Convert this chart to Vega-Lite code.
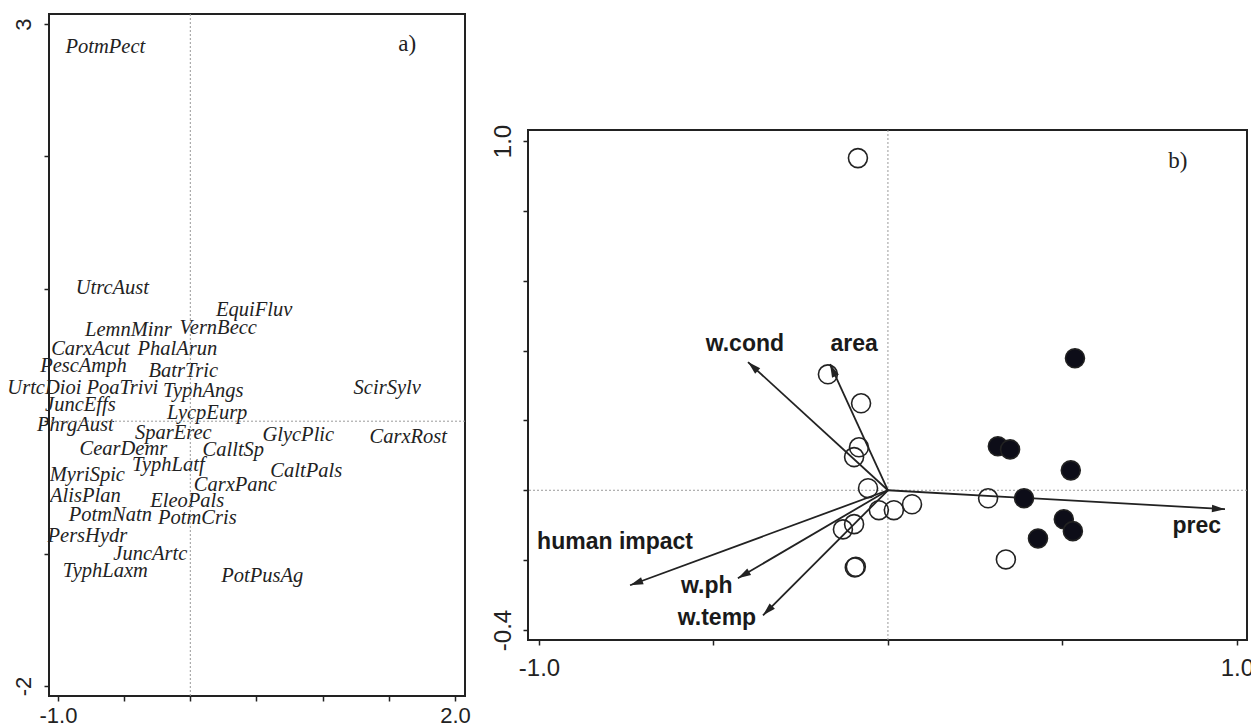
{
  "$schema": "https://vega.github.io/schema/vega-lite/v6.json",
  "padding": {"left": 6, "top": 12, "right": 0, "bottom": 0},
  "background": "white",
  "spacing": 17,
  "config": {
    "view": {"stroke": "#222", "strokeWidth": 2},
    "axis": {"grid": false, "domain": false, "tickColor": "#222", "tickWidth": 1.5, "tickSize": 5, "labelColor": "#222", "labelFont": "Liberation Sans", "labelFontSize": 21, "title": null, "labelFlush": true, "labelOverlap": false}
  },
  "datasets": {
    "species": [
      {"name": "PotmPect", "x": -0.642, "y": 2.826},
      {"name": "UtrcAust", "x": -0.589, "y": 1.008},
      {"name": "EquiFluv", "x": 0.483, "y": 0.841},
      {"name": "LemnMinr", "x": -0.468, "y": 0.689},
      {"name": "VernBecc", "x": 0.211, "y": 0.705},
      {"name": "CarxAcut", "x": -0.755, "y": 0.545},
      {"name": "PhalArun", "x": -0.098, "y": 0.545},
      {"name": "PescAmph", "x": -0.808, "y": 0.417},
      {"name": "BatrTric", "x": -0.053, "y": 0.379},
      {"name": "UrtcDioi", "x": -1.103, "y": 0.25},
      {"name": "PoaTrivi", "x": -0.514, "y": 0.25},
      {"name": "TyphAngs", "x": 0.098, "y": 0.227},
      {"name": "ScirSylv", "x": 1.488, "y": 0.25},
      {"name": "JuncEffs", "x": -0.831, "y": 0.121},
      {"name": "LycpEurp", "x": 0.128, "y": 0.061},
      {"name": "PhrgAust", "x": -0.869, "y": -0.03},
      {"name": "SparErec", "x": -0.128, "y": -0.091},
      {"name": "GlycPlic", "x": 0.816, "y": -0.106},
      {"name": "CarxRost", "x": 1.647, "y": -0.121},
      {"name": "CearDemr", "x": -0.506, "y": -0.212},
      {"name": "CalltSp", "x": 0.325, "y": -0.22},
      {"name": "TyphLatf", "x": -0.166, "y": -0.333},
      {"name": "MyriSpic", "x": -0.778, "y": -0.409},
      {"name": "CaltPals", "x": 0.876, "y": -0.379},
      {"name": "CarxPanc", "x": 0.34, "y": -0.485},
      {"name": "AlisPlan", "x": -0.793, "y": -0.568},
      {"name": "EleoPals", "x": -0.023, "y": -0.606},
      {"name": "PotmNatn", "x": -0.604, "y": -0.712},
      {"name": "PotmCris", "x": 0.053, "y": -0.735},
      {"name": "PersHydr", "x": -0.778, "y": -0.864},
      {"name": "JuncArtc", "x": -0.302, "y": -1.0},
      {"name": "TyphLaxm", "x": -0.642, "y": -1.129},
      {"name": "PotPusAg", "x": 0.544, "y": -1.167}
    ],
    "sites": [
      {"x": -0.086, "y": 0.951, "group": "open"},
      {"x": -0.172, "y": 0.332, "group": "open"},
      {"x": -0.077, "y": 0.249, "group": "open"},
      {"x": -0.083, "y": 0.123, "group": "open"},
      {"x": -0.097, "y": 0.095, "group": "open"},
      {"x": -0.057, "y": 0.006, "group": "open"},
      {"x": -0.026, "y": -0.057, "group": "open"},
      {"x": 0.017, "y": -0.057, "group": "open"},
      {"x": 0.069, "y": -0.04, "group": "open"},
      {"x": -0.097, "y": -0.097, "group": "open"},
      {"x": -0.129, "y": -0.112, "group": "open"},
      {"x": -0.095, "y": -0.221, "group": "open"},
      {"x": -0.092, "y": -0.219, "group": "open"},
      {"x": 0.287, "y": -0.023, "group": "open"},
      {"x": 0.338, "y": -0.198, "group": "open"},
      {"x": 0.536, "y": 0.378, "group": "filled"},
      {"x": 0.315, "y": 0.126, "group": "filled"},
      {"x": 0.35, "y": 0.117, "group": "filled"},
      {"x": 0.524, "y": 0.057, "group": "filled"},
      {"x": 0.39, "y": -0.023, "group": "filled"},
      {"x": 0.504, "y": -0.083, "group": "filled"},
      {"x": 0.53, "y": -0.117, "group": "filled"},
      {"x": 0.43, "y": -0.138, "group": "filled"}
    ],
    "vectors": [
      {"name": "w.cond", "x": -0.401, "y": 0.367, "lx": -0.41, "ly": 0.418},
      {"name": "area", "x": -0.166, "y": 0.361, "lx": -0.097, "ly": 0.418},
      {"name": "human impact", "x": -0.739, "y": -0.272, "lx": -0.782, "ly": -0.149},
      {"name": "w.ph", "x": -0.43, "y": -0.252, "lx": -0.519, "ly": -0.275},
      {"name": "w.temp", "x": -0.358, "y": -0.358, "lx": -0.49, "ly": -0.367},
      {"name": "prec", "x": 0.966, "y": -0.054, "lx": 0.885, "ly": -0.103}
    ]
  },
  "hconcat": [
    {
      "width": 416,
      "height": 682,
      "layer": [
        {
          "data": {"name": "species"},
          "mark": {"type": "text", "font": "Liberation Serif", "fontStyle": "italic", "fontSize": 20.5, "color": "#222", "align": "center", "baseline": "middle"},
          "encoding": {
            "x": {"field": "x", "type": "quantitative", "scale": {"domain": [-1.068, 2.076], "nice": false, "zero": false},
                  "axis": {"values": [-1, -0.5, 0, 0.5, 1, 1.5, 2], "labelExpr": "datum.value == -1 ? '-1.0' : (datum.value == 2 ? '2.0' : '')", "labelPadding": 4, "labelFontSize": 22}},
            "y": {"field": "y", "type": "quantitative", "scale": {"domain": [-2.076, 3.076], "nice": false, "zero": false},
                  "axis": {"values": [-2, -1, 0, 1, 2, 3], "labelAngle": -90, "labelExpr": "datum.value == 3 ? '3' : (datum.value == -2 ? '-2' : '')", "labelPadding": 9, "labelFontSize": 22}},
            "text": {"field": "name"}
          }
        },
        {
          "data": {"values": [{"v": 0}]},
          "mark": {"type": "rule", "color": "#9a9a9a", "strokeDash": [2, 2], "strokeWidth": 1},
          "encoding": {"x": {"field": "v", "type": "quantitative"}}
        },
        {
          "data": {"values": [{"v": 0}]},
          "mark": {"type": "rule", "color": "#9a9a9a", "strokeDash": [2, 2], "strokeWidth": 1},
          "encoding": {"y": {"field": "v", "type": "quantitative"}}
        },
        {
          "data": {"values": [{"x": 1.639, "y": 2.848, "label": "a)"}]},
          "mark": {"type": "text", "font": "Liberation Serif", "fontSize": 23, "color": "#222", "align": "center", "baseline": "middle"},
          "encoding": {
            "x": {"field": "x", "type": "quantitative"},
            "y": {"field": "y", "type": "quantitative"},
            "text": {"field": "label"}
          }
        }
      ]
    },
    {
      "spacing": 0,
      "vconcat": [
        {
          "width": 719,
          "height": 109,
          "view": {"stroke": null},
          "data": {"values": [{"v": 0}]},
          "mark": {"type": "point", "opacity": 0, "size": 1},
          "encoding": {}
        },
        {
          "width": 719,
          "height": 510,
          "layer": [
            {
              "data": {"values": [{"v": 0}]},
              "mark": {"type": "rule", "color": "#9a9a9a", "strokeDash": [2, 2], "strokeWidth": 1},
              "encoding": {
                "x": {"field": "v", "type": "quantitative", "scale": {"domain": [-1.0315, 1.029], "nice": false, "zero": false},
                      "axis": {"values": [-1, -0.5, 0, 0.5, 1], "labelExpr": "abs(datum.value + 1) < 0.001 ? '-1.0' : (abs(datum.value - 1) < 0.001 ? '1.0' : '')", "labelPadding": 11, "labelFontSize": 24}}
              }
            },
            {
              "data": {"values": [{"v": 0}]},
              "mark": {"type": "rule", "color": "#9a9a9a", "strokeDash": [2, 2], "strokeWidth": 1},
              "encoding": {
                "y": {"field": "v", "type": "quantitative", "scale": {"domain": [-0.4287, 1.0315], "nice": false, "zero": false},
                      "axis": {"values": [-0.4, -0.2, 0, 0.2, 0.4, 0.6, 0.8, 1.0], "labelAngle": -90, "labelExpr": "abs(datum.value - 1) < 0.001 ? '1.0' : (abs(datum.value + 0.4) < 0.001 ? '-0.4' : '')", "labelPadding": 8, "labelFontSize": 24}}
              }
            },
            {
              "data": {"name": "vectors"},
              "mark": {"type": "rule", "color": "#222", "strokeWidth": 1.8},
              "encoding": {
                "x": {"field": "x", "type": "quantitative"},
                "y": {"field": "y", "type": "quantitative"},
                "x2": {"datum": 0},
                "y2": {"datum": 0}
              }
            },
            {
              "data": {"name": "sites"},
              "mark": {"type": "point", "shape": "circle", "size": 360, "strokeWidth": 1.6, "stroke": "#222", "opacity": 1},
              "encoding": {
                "x": {"field": "x", "type": "quantitative"},
                "y": {"field": "y", "type": "quantitative"},
                "fill": {"field": "group", "type": "nominal", "scale": {"domain": ["open", "filled"], "range": ["transparent", "#0d0d18"]}, "legend": null},
                "fillOpacity": {"value": 1}
              }
            },
            {
              "data": {"name": "vectors"},
              "transform": [{"calculate": "atan2(datum.x, datum.y) * 180 / PI", "as": "angle"}],
              "mark": {"type": "point", "shape": "M0,0L-0.4,1.4L0.4,1.4Z", "size": 350, "filled": true, "color": "#222", "opacity": 1},
              "encoding": {
                "x": {"field": "x", "type": "quantitative"},
                "y": {"field": "y", "type": "quantitative"},
                "angle": {"field": "angle", "type": "quantitative", "scale": null}
              }
            },
            {
              "data": {"name": "vectors"},
              "mark": {"type": "text", "font": "Liberation Sans", "fontWeight": "bold", "fontSize": 23, "color": "#1a1a1a", "align": "center", "baseline": "middle"},
              "encoding": {
                "x": {"field": "lx", "type": "quantitative"},
                "y": {"field": "ly", "type": "quantitative"},
                "text": {"field": "name"}
              }
            },
            {
              "data": {"values": [{"x": 0.831, "y": 0.943, "label": "b)"}]},
              "mark": {"type": "text", "font": "Liberation Serif", "fontSize": 23, "color": "#222", "align": "center", "baseline": "middle"},
              "encoding": {
                "x": {"field": "x", "type": "quantitative"},
                "y": {"field": "y", "type": "quantitative"},
                "text": {"field": "label"}
              }
            }
          ]
        }
      ]
    }
  ]
}
